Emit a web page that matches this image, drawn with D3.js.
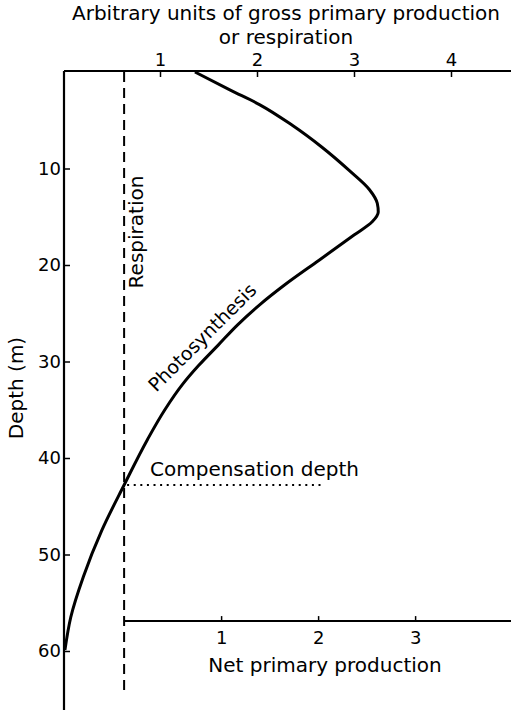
<!DOCTYPE html>
<html><head><meta charset="utf-8">
<script src="https://cdn.jsdelivr.net/npm/d3@7"></script>
<style>body{margin:0;background:#fff}svg{display:block}text{font-family:"DejaVu Sans",sans-serif;fill:#000}</style>
</head><body><div id="chart"></div>
<script>
// ---- data ----
const photoDepth = [0, 1.9, 3.4, 5.5, 7.8, 10.2, 12.2, 13.6, 14.5, 15.5, 16.9, 19.5, 22.1, 24.1, 26.2, 28.3, 30.4, 32.4, 35.0, 38.1, 42.8, 47.5, 52.3, 56.5, 59.9];
const photoGross = [1.36, 1.73, 2.03, 2.36, 2.67, 2.95, 3.16, 3.24, 3.25, 3.19, 3.00, 2.64, 2.28, 2.03, 1.80, 1.60, 1.40, 1.23, 1.05, 0.87, 0.63, 0.40, 0.21, 0.08, 0.02];
const respirationValue = 0.63;
const respirationDepthEnd = 64.3;
const compensationDepth = 42.8;
const compensationEnd = 2.67;
const netAxisDepth = 56.9;
const grossTicks = [1, 2, 3, 4];
const netTicks = [1, 2, 3];
const depthTicks = [10, 20, 30, 40, 50, 60];

const W = 511, H = 710;
const svg = d3.select("#chart").append("svg").attr("width", W).attr("height", H);

const x = d3.scaleLinear().domain([0, 4.6]).range([63, 63 + 97 * 4.6]);
const y = d3.scaleLinear().domain([0, 66]).range([72, 72 + 9.65 * 66]);
const xNet = d3.scaleLinear().domain([0, 4]).range([x(respirationValue), x(respirationValue + 4)]);

const axisX = 64, axisTop = 71;
const LABEL = 20, TICK = 18;

// titles
svg.append("text").attr("x", 286).attr("y", 19.5).attr("text-anchor", "middle").attr("font-size", LABEL)
  .text("Arbitrary units of gross primary production");
svg.append("text").attr("x", 286).attr("y", 43.5).attr("text-anchor", "middle").attr("font-size", LABEL)
  .text("or respiration");

// top axis
const gTop = svg.append("g").attr("transform", `translate(0,${axisTop})`)
  .call(d3.axisTop(x).tickValues(grossTicks).tickFormat(d3.format("d")).tickSizeInner(-6).tickSizeOuter(0).tickPadding(5));
// left axis
const gLeft = svg.append("g").attr("transform", `translate(${axisX},0)`)
  .call(d3.axisLeft(y).tickValues(depthTicks).tickFormat(d3.format("d")).tickSizeInner(-6).tickSizeOuter(0).tickPadding(3));
// net axis
const gNet = svg.append("g").attr("transform", `translate(0,${y(netAxisDepth)})`)
  .call(d3.axisBottom(xNet).tickValues(netTicks).tickFormat(d3.format("d")).tickSizeInner(-5).tickSizeOuter(0).tickPadding(10));

[gTop, gLeft, gNet].forEach(g => {
  g.select(".domain").remove();
  g.selectAll("line").attr("stroke", "#000").attr("stroke-width", 1.5);
  g.selectAll("text").attr("font-size", TICK).attr("font-family", "DejaVu Sans").attr("fill", "#000");
});

// frame lines
svg.append("line").attr("x1", axisX).attr("x2", W).attr("y1", axisTop).attr("y2", axisTop)
  .attr("stroke", "#000").attr("stroke-width", 2);
svg.append("line").attr("x1", axisX).attr("x2", axisX).attr("y1", axisTop).attr("y2", H)
  .attr("stroke", "#000").attr("stroke-width", 2.2);
svg.append("line").attr("x1", x(respirationValue)).attr("x2", W).attr("y1", y(netAxisDepth)).attr("y2", y(netAxisDepth))
  .attr("stroke", "#000").attr("stroke-width", 2);

// respiration
svg.append("line").attr("x1", x(respirationValue)).attr("x2", x(respirationValue))
  .attr("y1", y(0)).attr("y2", y(respirationDepthEnd))
  .attr("stroke", "#000").attr("stroke-width", 2).attr("stroke-dasharray", "10,6");

// compensation dotted
svg.append("line").attr("x1", x(respirationValue) + 3).attr("x2", x(compensationEnd))
  .attr("y1", y(compensationDepth)).attr("y2", y(compensationDepth))
  .attr("stroke", "#000").attr("stroke-width", 2).attr("stroke-dasharray", "2,4.6");

// photosynthesis curve
const pts = photoDepth.map((d, i) => [photoGross[i], d]);
svg.append("path").datum(pts)
  .attr("d", d3.line().x(d => x(d[0])).y(d => y(d[1])).curve(d3.curveMonotoneY))
  .attr("fill", "none").attr("stroke", "#000").attr("stroke-width", 3);

// labels
svg.append("text").attr("transform", `translate(143,232) rotate(-90)`).attr("text-anchor", "middle").attr("font-size", LABEL)
  .text("Respiration");
svg.append("text").attr("transform", `translate(207,342) rotate(-45)`).attr("text-anchor", "middle").attr("font-size", 19)
  .text("Photosynthesis");
svg.append("text").attr("x", 150).attr("y", 476).attr("font-size", LABEL).text("Compensation depth");
svg.append("text").attr("x", 325).attr("y", 672).attr("text-anchor", "middle").attr("font-size", LABEL).text("Net primary production");
svg.append("text").attr("transform", `translate(23,388) rotate(-90)`).attr("text-anchor", "middle").attr("font-size", LABEL).text("Depth (m)");
</script></body></html>
